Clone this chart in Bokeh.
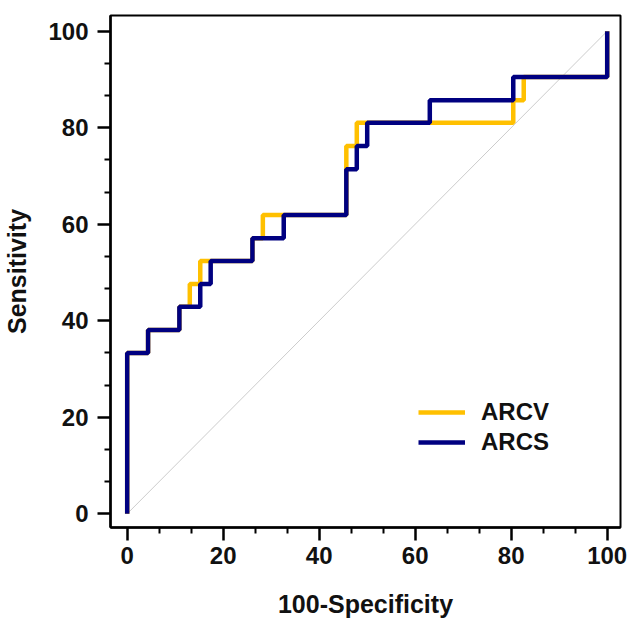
from bokeh.plotting import figure
from bokeh.models import Legend, LegendItem, Range1d, FixedTicker
from bokeh.embed import file_html
from bokeh.resources import INLINE

# ROC operating points (100-Specificity, Sensitivity)
arcv_fpr = [0, 0, 4.35, 10.87, 13.04, 15.22, 26.09, 28.26, 45.65, 47.83, 80.43, 82.61, 100]
arcv_tpr = [0, 33.3, 38.1, 42.9, 47.6, 52.4, 57.1, 61.9, 76.2, 81.0, 85.7, 90.5, 100]
arcs_fpr = [0, 0, 4.35, 10.87, 15.22, 17.39, 26.09, 32.61, 45.65, 47.83, 50.0, 63.04, 80.43, 100]
arcs_tpr = [0, 33.3, 38.1, 42.9, 47.6, 52.4, 57.1, 61.9, 71.4, 76.2, 81.0, 85.7, 90.5, 100]
ref_x = [0, 100]
ref_y = [0, 100]
ticks = [0, 20, 40, 60, 80, 100]
minor = [6.67, 13.33, 26.67, 33.33, 46.67, 53.33, 66.67, 73.33, 86.67, 93.33]
series_names = ["ARCV", "ARCS"]

FONT = "Liberation Sans"
TXT = "#111111"

p = figure(width=630, height=620, output_backend="svg", toolbar_location=None,
           x_range=Range1d(-3.48, 102.77), y_range=Range1d(-2.85, 103.25),
           min_border_left=110, min_border_right=10, min_border_top=15, min_border_bottom=93)

p.grid.visible = False
p.outline_line_color = "black"
p.outline_line_width = 2
p.background_fill_color = "white"

p.line(ref_x, ref_y, line_color="#cccccc", line_width=1)

r1 = p.step(arcv_fpr, arcv_tpr, mode="after", line_color="#FFC000", line_width=4.5)
r2 = p.step(arcs_fpr, arcs_tpr, mode="after", line_color="#000080", line_width=4.5)

for ax in (p.xaxis[0], p.yaxis[0]):
    ax.ticker = FixedTicker(ticks=ticks, minor_ticks=minor)
    ax.axis_line_width = 2.5
    ax.axis_line_color = "black"
    ax.major_tick_line_width = 2.5
    ax.minor_tick_line_width = 2
    ax.major_tick_in = 0
    ax.minor_tick_in = 0
    ax.major_tick_out = 13
    ax.minor_tick_out = 6
    ax.major_label_text_font = FONT
    ax.major_label_text_font_style = "bold"
    ax.major_label_text_font_size = "24px"
    ax.major_label_text_color = TXT
    ax.axis_label_text_font = FONT
    ax.axis_label_text_font_style = "bold"
    ax.axis_label_text_font_size = "25px"
    ax.axis_label_text_color = TXT

p.xaxis[0].axis_label = "100-Specificity"
p.yaxis[0].axis_label = "Sensitivity"
p.xaxis[0].major_label_standoff = 6
p.yaxis[0].major_label_standoff = 9
p.xaxis[0].axis_label_standoff = 23
p.yaxis[0].axis_label_standoff = 14

legend = Legend(items=[LegendItem(label=series_names[0], renderers=[r1]),
                       LegendItem(label=series_names[1], renderers=[r2])],
                location=(308, 71), padding=0, margin=0, spacing=2,
                glyph_width=47, glyph_height=24, label_height=24, label_standoff=16,
                label_text_font=FONT, label_text_font_style="bold",
                label_text_font_size="24px", label_text_color=TXT,
                border_line_alpha=0, background_fill_alpha=0)
p.add_layout(legend)

open("out.html", "w").write(file_html(p, INLINE))
